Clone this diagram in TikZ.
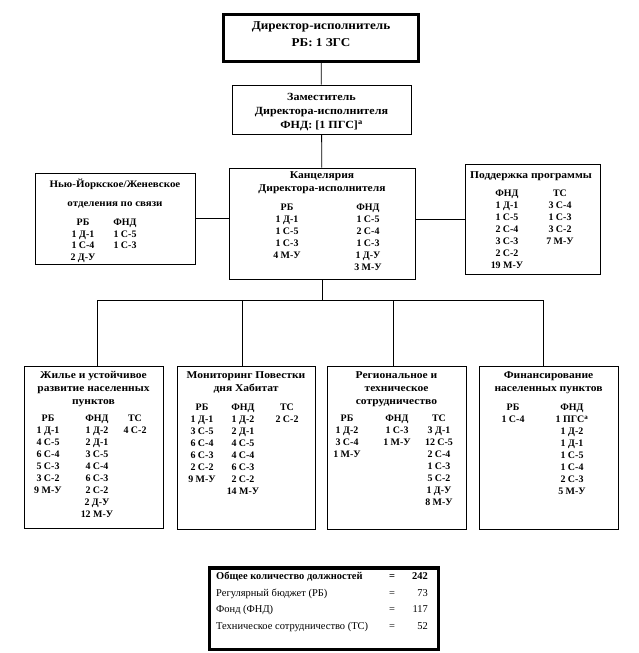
\documentclass[tikz,border=0pt]{standalone}
\usepackage{fontspec}
\setmainfont{Liberation Serif}
\newfontfamily\widefont{Liberation Serif}[FakeStretch=1.1]
\usetikzlibrary{positioning}
\tikzset{
  unitbox/.style={
    draw=black,
    line width=0.8pt,
    inner sep=0pt
  },
  headbox/.style={
    draw=black,
    line width=3.5pt,
    inner sep=0pt
  },
  titletext/.style={
    align=center,
    inner sep=0pt,
    anchor=base,
    font=\widefont\bfseries\fontsize{10.5}{13}\selectfont
  },
  coltext/.style={
    align=center,
    inner sep=0pt,
    anchor=base,
    font=\bfseries\fontsize{10}{12}\selectfont
  },
  sumtext/.style={
    inner sep=0pt,
    font=\fontsize{10.5}{16.7}\selectfont
  },
  orgline/.style={
    line width=0.8pt
  }
}

\begin{document}
\begin{tikzpicture}[x=1bp, y=-1bp]
  \useasboundingbox (0,0) rectangle (639,653);
  % boxes
  \node[headbox, minimum width=194.5bp, minimum height=46.5bp] (director) at (321,38) {};
  \node[unitbox, minimum width=179bp, minimum height=49bp] (deputy) at (321.5,109.5) {};
  \node[unitbox, minimum width=186bp, minimum height=111bp] (office) at (322,223.5) {};
  \node[unitbox, minimum width=160bp, minimum height=91bp] (liaison) at (115,218.5) {};
  \node[unitbox, minimum width=135bp, minimum height=110bp] (support) at (532.5,219) {};
  \node[unitbox, minimum width=139bp, minimum height=162bp] (housing) at (93.5,447) {};
  \node[unitbox, minimum width=138bp, minimum height=163bp] (monitor) at (246,447.5) {};
  \node[unitbox, minimum width=139bp, minimum height=163bp] (cooperation) at (396.5,447.5) {};
  \node[unitbox, minimum width=139bp, minimum height=163bp] (finance) at (548.5,447.5) {};
  \node[headbox, minimum width=228.5bp, minimum height=81.5bp] (total) at (324,608.5) {};

  % texts (placed at the baseline of their last line)
  \node[titletext, font=\widefont\bfseries\fontsize{12}{18}\selectfont] (director-text) at (321,47)
    {Директор-исполнитель\\РБ: 1 ЗГС};
  \node[titletext, font=\widefont\bfseries\fontsize{11}{14}\selectfont] (deputy-text) at (321.5,128.5)
    {Заместитель\\Директора-исполнителя\\ФНД: [1 ПГС]\textsuperscript{а}};

  \node[titletext] (office-title) at (322,191) {Канцелярия\\Директора-исполнителя};
  \node[coltext] (office-rb) at (287,258.5)
    {РБ\\1 Д-1\\1 С-5\\1 С-3\\4 М-У};
  \node[coltext] (office-fnd) at (368,270.5)
    {ФНД\\1 С-5\\2 С-4\\1 С-3\\1 Д-У\\3 М-У};

  \node[titletext, font=\widefont\bfseries\fontsize{10}{19}\selectfont] (liaison-title) at (115,206)
    {Нью-Йоркское/Женевское\\отделения по связи};
  \node[coltext, font=\bfseries\fontsize{10}{11.5}\selectfont] (liaison-rb) at (83,260)
    {РБ\\1 Д-1\\1 С-4\\2 Д-У};
  \node[coltext, font=\bfseries\fontsize{10}{11.5}\selectfont] (liaison-fnd) at (125,248.5)
    {ФНД\\1 С-5\\1 С-3};

  \node[titletext] (support-title) at (531,178) {Поддержка программы};
  \node[coltext] (support-fnd) at (507,268.5)
    {ФНД\\1 Д-1\\1 С-5\\2 С-4\\3 С-3\\2 С-2\\19 М-У};
  \node[coltext] (support-tc) at (560,244.5)
    {ТС\\3 С-4\\1 С-3\\3 С-2\\7 М-У};

  \node[titletext] (housing-title) at (93.5,404)
    {Жилье и устойчивое\\развитие населенных\\пунктов};
  \node[coltext] (housing-rb) at (48,493.5) {РБ\\1 Д-1\\4 С-5\\6 С-4\\5 С-3\\3 С-2\\9 М-У};
  \node[coltext] (housing-fnd) at (97,517.5)
    {ФНД\\1 Д-2\\2 Д-1\\3 С-5\\4 С-4\\6 С-3\\2 С-2\\2 Д-У\\12 М-У};
  \node[coltext] (housing-tc) at (135,433.5) {ТС\\4 С-2};

  \node[titletext] (monitor-title) at (246,391) {Мониторинг Повестки\\дня Хабитат};
  \node[coltext] (monitor-rb) at (202,482.5) {РБ\\1 Д-1\\3 С-5\\6 С-4\\6 С-3\\2 С-2\\9 М-У};
  \node[coltext] (monitor-fnd) at (243,494.5)
    {ФНД\\1 Д-2\\2 Д-1\\4 С-5\\4 С-4\\6 С-3\\2 С-2\\14 М-У};
  \node[coltext] (monitor-tc) at (287,422.5) {ТС\\2 С-2};

  \node[titletext] (cooperation-title) at (396.5,404)
    {Региональное и\\техническое\\сотрудничество};
  \node[coltext] (cooperation-rb) at (347,457.5) {РБ\\1 Д-2\\3 С-4\\1 М-У};
  \node[coltext] (cooperation-fnd) at (397,445.5) {ФНД\\1 С-3\\1 М-У};
  \node[coltext] (cooperation-tc) at (439,505.5)
    {ТС\\3 Д-1\\12 С-5\\2 С-4\\1 С-3\\5 С-2\\1 Д-У\\8 М-У};

  \node[titletext] (finance-title) at (548.5,391) {Финансирование\\населенных пунктов};
  \node[coltext] (finance-rb) at (513,422.5) {РБ\\1 С-4};
  \node[coltext] (finance-fnd) at (572,494.5)
    {ФНД\\1 ПГС\textsuperscript{а}\\1 Д-2\\1 Д-1\\1 С-5\\1 С-4\\2 С-3\\5 М-У};

  \node[sumtext, anchor=base west, align=left] (total-labels) at (216,629.6)
    {\textbf{Общее количество должностей}\\Регулярный бюджет (РБ)\\Фонд (ФНД)\\Техническое сотрудничество (ТС)};
  \node[sumtext, anchor=base, align=center] (total-eq) at (392,629.6) {\textbf{=}\\=\\=\\=};
  \node[sumtext, anchor=base east, align=right] (total-num) at (428,629.6)
    {\textbf{242}\\73\\117\\52};

  % connectors
  \draw[orgline] (director) -- (deputy);
  \draw[orgline] (deputy) -- (office);
  \draw[orgline] (liaison.east) -- (liaison.east -| office.west);
  \draw[orgline] (support.west) -- (support.west -| office.east);
  \coordinate (bus) at (322,300);
  \draw[orgline] (office.south) -- (bus);
  \foreach \unit/\dx in {housing/4.1, monitor/-4, cooperation/-3.1, finance/-5.3}
    \draw[orgline] ([xshift=\dx bp]\unit.north) |- (bus);
\end{tikzpicture}
\end{document}
